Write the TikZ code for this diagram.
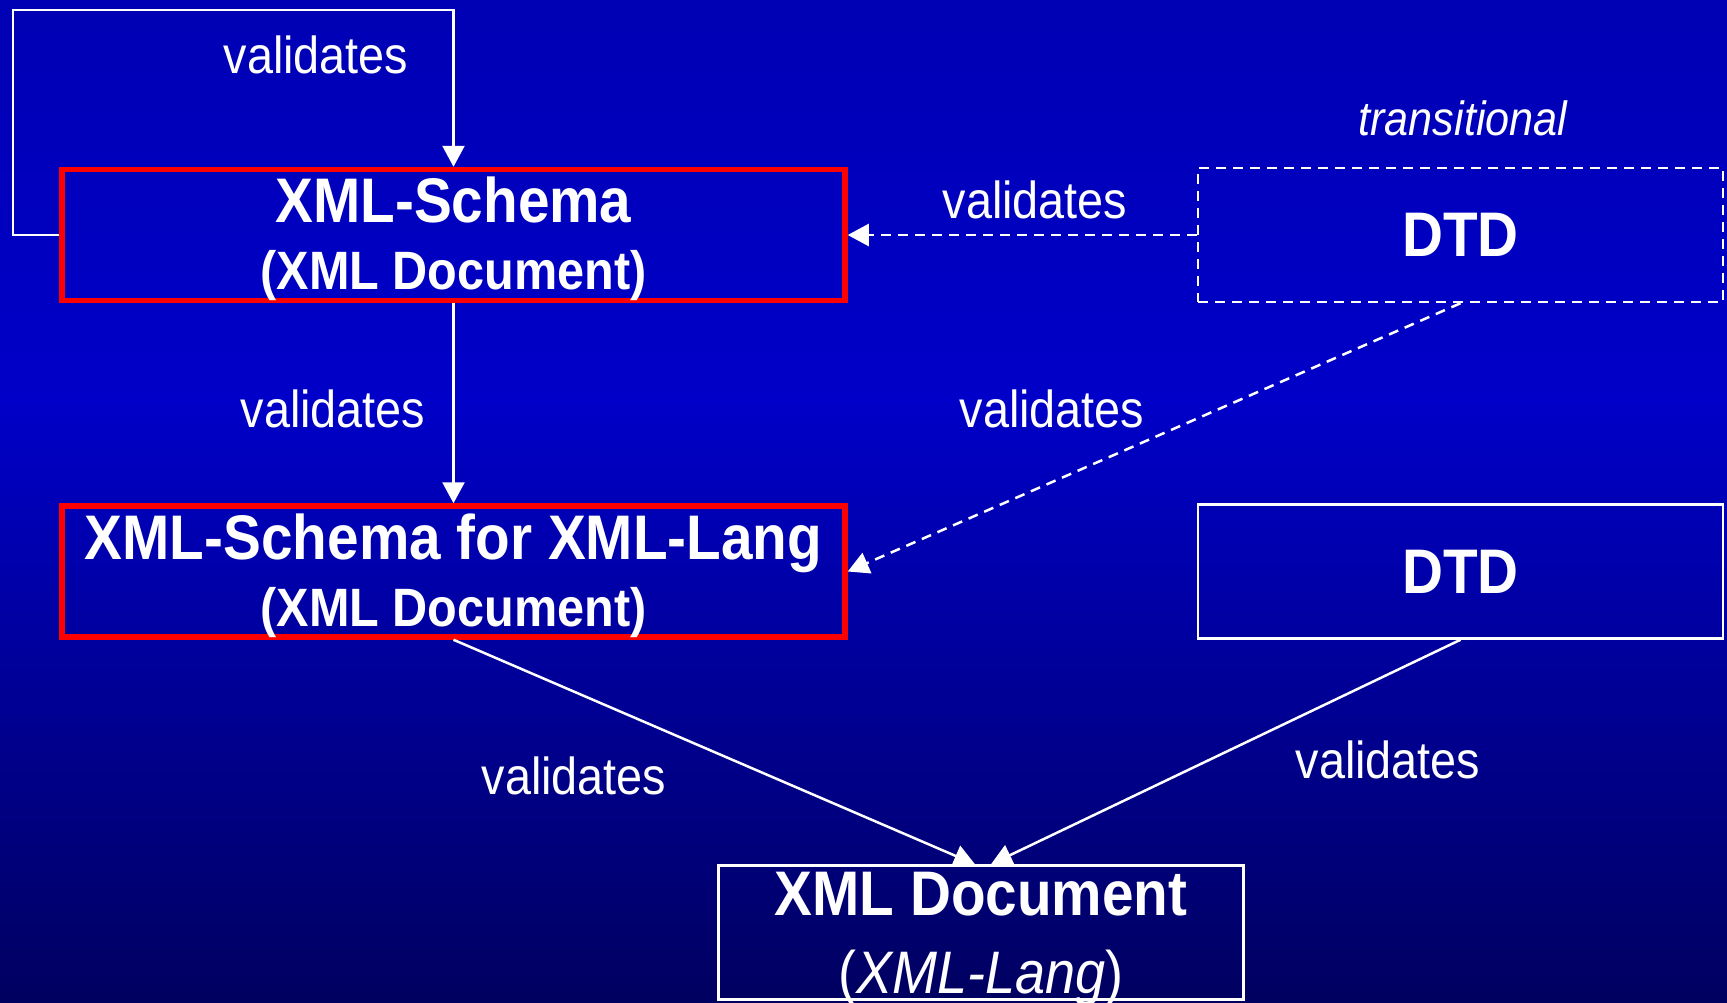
\documentclass[tikz,border=0pt]{standalone}
\usepackage{fontspec}
\setmainfont{Liberation Sans}[FakeStretch=0.9]
\usetikzlibrary{positioning,arrows.meta,calc}
\definecolor{bgtop}{RGB}{0,0,180}
\definecolor{bgmid}{RGB}{0,0,200}
\definecolor{bgbot}{RGB}{0,0,96}
\pgfdeclareverticalshading{slidebg}{100bp}{color(0bp)=(bgbot); color(25bp)=(bgbot); color(55bp)=(bgmid); color(75bp)=(bgtop); color(100bp)=(bgtop)}
\newcommand{\titlefont}{\fontsize{63}{70}\selectfont\bfseries}
\newcommand{\subfont}{\fontsize{54}{67}\selectfont\bfseries}
\tikzset{every picture/.style={>={Triangle[length=21pt,width=22pt]},line width=2.5pt}}
\tikzset{schemabox/.style={draw=red,line width=5.5pt,minimum width=783pt,minimum height=131pt,inner sep=0pt,
    align=center,text=white,font=\subfont,text height=109pt,text depth=0pt}}
\tikzset{dtdbox/.style={draw=white,minimum width=525pt,minimum height=134pt,inner sep=0pt,text=white,font=\titlefont}}
\tikzset{docbox/.style={dtdbox,align=center,font=\fontsize{60}{78}\selectfont,text height=121pt,text depth=0pt}}
\tikzset{dashline/.style={dash pattern=on 10pt off 7pt}}
\tikzset{conn/.style={white,->}}
\tikzset{vlabel/.style={text=white,inner sep=0pt,font=\fontsize{52}{60}\selectfont}}

\begin{document}
\begin{tikzpicture}[x=1pt,y=-1pt]
  \shade[shading=slidebg] (0,0) rectangle (1727,1002);
  \useasboundingbox (0,0) rectangle (1727,1002);

  % boxes
  \node[schemabox] (schema) at (453.5,235) {{\titlefont XML-Schema}\\(XML Document)};
  \node[schemabox] (langschema) at (453.5,571.5) {{\titlefont XML-Schema for XML-Lang}\\(XML Document)};
  \node[dtdbox,dashline] (olddtd) at (1460.5,235) {DTD};
  \node[dtdbox] (dtd) at (1460.5,571.5) {DTD};
  \node[docbox] (doc) at (981,932.5) {{\titlefont XML Document}\\(\textit{XML-Lang})};
  \node[vlabel,font=\fontsize{48}{56}\selectfont\itshape] (trans) at (1463,118) {transitional};

  % labels
  \node[vlabel] (v1) at (316,55) {validates};
  \node[vlabel] (v2) at (1035,200) {validates};
  \node[vlabel] (v3) at (333,409) {validates};
  \node[vlabel] (v4) at (1052,409) {validates};
  \node[vlabel] (v5) at (574,776) {validates};
  \node[vlabel] (v6) at (1388,760) {validates};

  % connectors
  \coordinate (loop) at (13,10);
  \draw[conn] (schema.west) -| (loop) -| (schema.north);
  \draw[conn,dashline] (olddtd) -- (schema);
  \draw[conn] (schema) -- (langschema);
  \draw[conn,dashline] (olddtd.south) -- (langschema.east);
  \draw[conn] (langschema.south) -- ([xshift=-6pt]doc.north);
  \draw[conn] (dtd.south) -- ([xshift=10pt]doc.north);
\end{tikzpicture}
\end{document}
